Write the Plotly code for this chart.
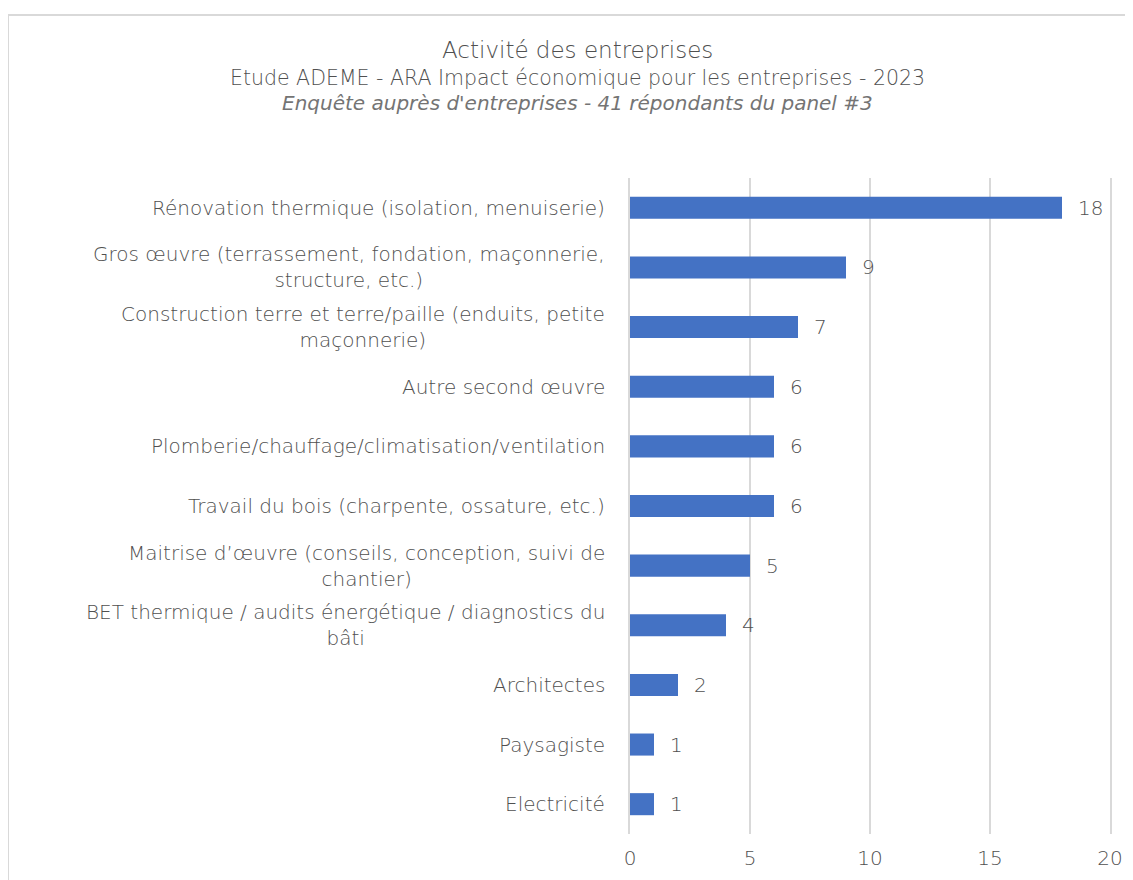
import plotly.graph_objects as go

# Données
categories = [
    "Rénovation thermique (isolation, menuiserie)",
    "Gros œuvre (terrassement, fondation, maçonnerie,<br>structure, etc.)",
    "Construction terre et terre/paille (enduits, petite<br>maçonnerie)",
    "Autre second œuvre",
    "Plomberie/chauffage/climatisation/ventilation",
    "Travail du bois (charpente, ossature, etc.)",
    "Maitrise d’œuvre (conseils, conception, suivi de<br>chantier)",
    "BET thermique / audits énergétique / diagnostics du<br>bâti",
    "Architectes",
    "Paysagiste",
    "Electricité",
]
valeurs = [18, 9, 7, 6, 6, 6, 5, 4, 2, 1, 1]
x_ticks = [0, 5, 10, 15, 20]

GRIS = "#505050"
GRIS_CLAIR = "#747474"
BLEU = "#4472C4"
GRILLE = "#D9D9D9"
POLICE = "DejaVu Sans"
TAILLE = 20
POIDS = 200

fig = go.Figure(go.Bar(
    x=valeurs, y=categories, orientation="h",
    marker=dict(color=BLEU, line_width=0),
    width=0.37, hoverinfo="x+y",
))

fig.update_layout(
    width=1133, height=880,
    margin=dict(l=622, r=31, t=170, b=54),
    plot_bgcolor="white", paper_bgcolor="white",
    font=dict(family=POLICE, size=TAILLE, color=GRIS, weight=POIDS),
    showlegend=False,
)

fig.update_xaxes(
    range=[0, 20], tickvals=x_ticks, showgrid=True, gridcolor=GRILLE, gridwidth=1.5,
    zeroline=False, showline=False, ticks="",
    tickfont=dict(size=TAILLE, color=GRIS, family=POLICE, weight=POIDS),
    ticklabelstandoff=10,
)
fig.update_yaxes(
    autorange="reversed", showgrid=False, ticks="", showticklabels=False,
    showline=True, mirror=True, linecolor=GRILLE, linewidth=1.5,
)

# Titres
titres = [
    ("Activité des entreprises", 23, 1.195, POIDS, GRIS),
    ("Etude ADEME - ARA Impact économique pour les entreprises - 2023", 20.5, 1.1524, POIDS, GRIS),
    ("<i>Enquête auprès d'entreprises - 41 répondants du panel #3</i>", 20, 1.1143, 300, GRIS_CLAIR),
]
for texte, taille, ypos, poids, couleur in titres:
    fig.add_annotation(text=texte, xref="paper", yref="paper", x=-0.1104, y=ypos,
                       xanchor="center", yanchor="middle", showarrow=False,
                       font=dict(size=taille, color=couleur, family=POLICE, weight=poids))

# Libellés des catégories (centrés sur plusieurs lignes)
for cat in categories:
    fig.add_annotation(text=cat, xref="paper", yref="y", x=-0.048, y=cat,
                       xanchor="right", yanchor="middle", align="center", showarrow=False,
                       font=dict(size=TAILLE, color=GRIS, family=POLICE, weight=POIDS))

# Valeurs en bout de barre
for cat, v in zip(categories, valeurs):
    fig.add_annotation(text=str(v), xref="x", yref="y", x=v, y=cat,
                       xanchor="left", yanchor="middle", xshift=14, showarrow=False,
                       font=dict(size=TAILLE, color=GRIS, family=POLICE, weight=POIDS))

# Cadre du graphique
fig.add_shape(type="rect", xref="paper", yref="paper",
              x0=-1.2958, x1=1.2, y0=-0.2, y1=1.2485,
              line=dict(color=GRILLE, width=2), layer="below")

fig.write_html("out.html")
